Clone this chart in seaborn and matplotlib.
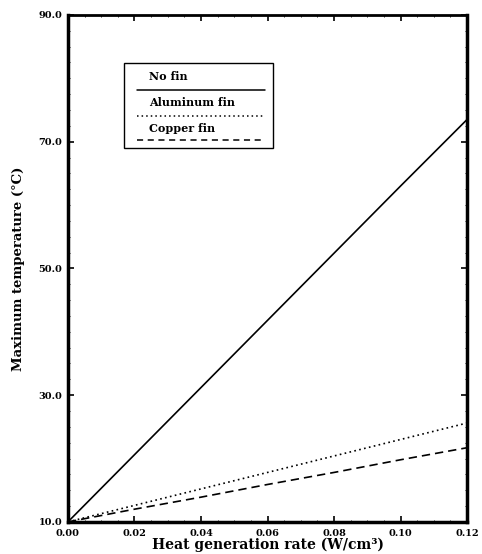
import matplotlib
matplotlib.use("Agg")
import matplotlib.pyplot as plt
import seaborn as sns
import pandas as pd
from matplotlib.ticker import MultipleLocator
from matplotlib.patches import Rectangle

sns.set_style("ticks")
plt.rcParams['font.family'] = ['DejaVu Serif']
plt.rcParams['text.color'] = 'black'
plt.rcParams['axes.labelcolor'] = 'black'
plt.rcParams['xtick.color'] = 'black'
plt.rcParams['ytick.color'] = 'black'

rate = [0.00, 0.02, 0.04, 0.06, 0.08, 0.10, 0.12]
no_fin = [10.0, 20.6, 31.2, 41.8, 52.4, 63.0, 73.5]
aluminum_fin = [10.0, 12.6, 15.2, 17.8, 20.4, 23.0, 25.6]
copper_fin = [10.0, 12.0, 13.9, 15.9, 17.8, 19.8, 21.7]
series_names = ["No fin", "Aluminum fin", "Copper fin"]
xticks = [0.00, 0.02, 0.04, 0.06, 0.08, 0.10, 0.12]
yticks = [10, 30, 50, 70, 90]

df = pd.DataFrame({
    "rate": rate * 3,
    "temp": no_fin + aluminum_fin + copper_fin,
    "series": [series_names[0]] * 7 + [series_names[1]] * 7 + [series_names[2]] * 7,
})

fig = plt.figure(figsize=(4.82, 5.54), dpi=100)
ax = fig.add_axes([0.141, 0.058, 0.828, 0.915])

styles = {"No fin": None, "Aluminum fin": (1, 2), "Copper fin": (5, 3)}
for name in series_names:
    sub = df[df["series"] == name]
    sns.lineplot(data=sub, x="rate", y="temp", ax=ax, color="black", lw=1.2, legend=False)
    if styles[name] is not None:
        ax.lines[-1].set_dashes(styles[name])

ax.set_xlim(0, 0.12)
ax.set_ylim(10, 90)
ax.set_xticks(xticks)
ax.set_yticks(yticks)
ax.set_xticklabels([f"{v:.2f}" for v in xticks], fontsize=7, fontweight="bold")
ax.set_yticklabels([f"{v:.1f}" for v in yticks], fontsize=7, fontweight="bold")
ax.xaxis.set_minor_locator(MultipleLocator(0.005))
ax.yaxis.set_minor_locator(MultipleLocator(2.5))
ax.tick_params(which="major", direction="in", length=4, width=1.2, top=True, right=True)
ax.tick_params(axis="x", which="major", pad=5)
ax.tick_params(axis="y", which="major", pad=4)
ax.tick_params(which="minor", direction="in", length=1.5, width=0.6, top=True, right=True)
for s in ["left", "right", "bottom"]:
    ax.spines[s].set_linewidth(2.5)
ax.spines["top"].set_linewidth(2.0)
for s in ax.spines.values():
    s.set_color("black")

ax.set_xlabel("Heat generation rate (W/cm³)", fontsize=10, fontweight="bold", labelpad=0)
ax.set_ylabel("Maximum temperature (°C)", fontsize=9.5, fontweight="bold", labelpad=10)

# legend box drawn in axes coordinates
ax.add_patch(Rectangle((0.140, 0.738), 0.374, 0.167, transform=ax.transAxes,
                       fill=False, edgecolor="black", lw=1.0))
entries = [("No fin", 0.878, 0.851, None), ("Aluminum fin", 0.827, 0.800, (1, 2)),
           ("Copper fin", 0.776, 0.753, (4, 3))]
for label, ty, ly, dash in entries:
    ax.text(0.203, ty, label, transform=ax.transAxes, fontsize=8, fontweight="bold",
            va="center", ha="left")
    ln, = ax.plot([0.172, 0.494], [ly, ly], transform=ax.transAxes, color="black", lw=1.1)
    if dash is not None:
        ln.set_dashes(dash)

fig.savefig("out.png", dpi=100)
